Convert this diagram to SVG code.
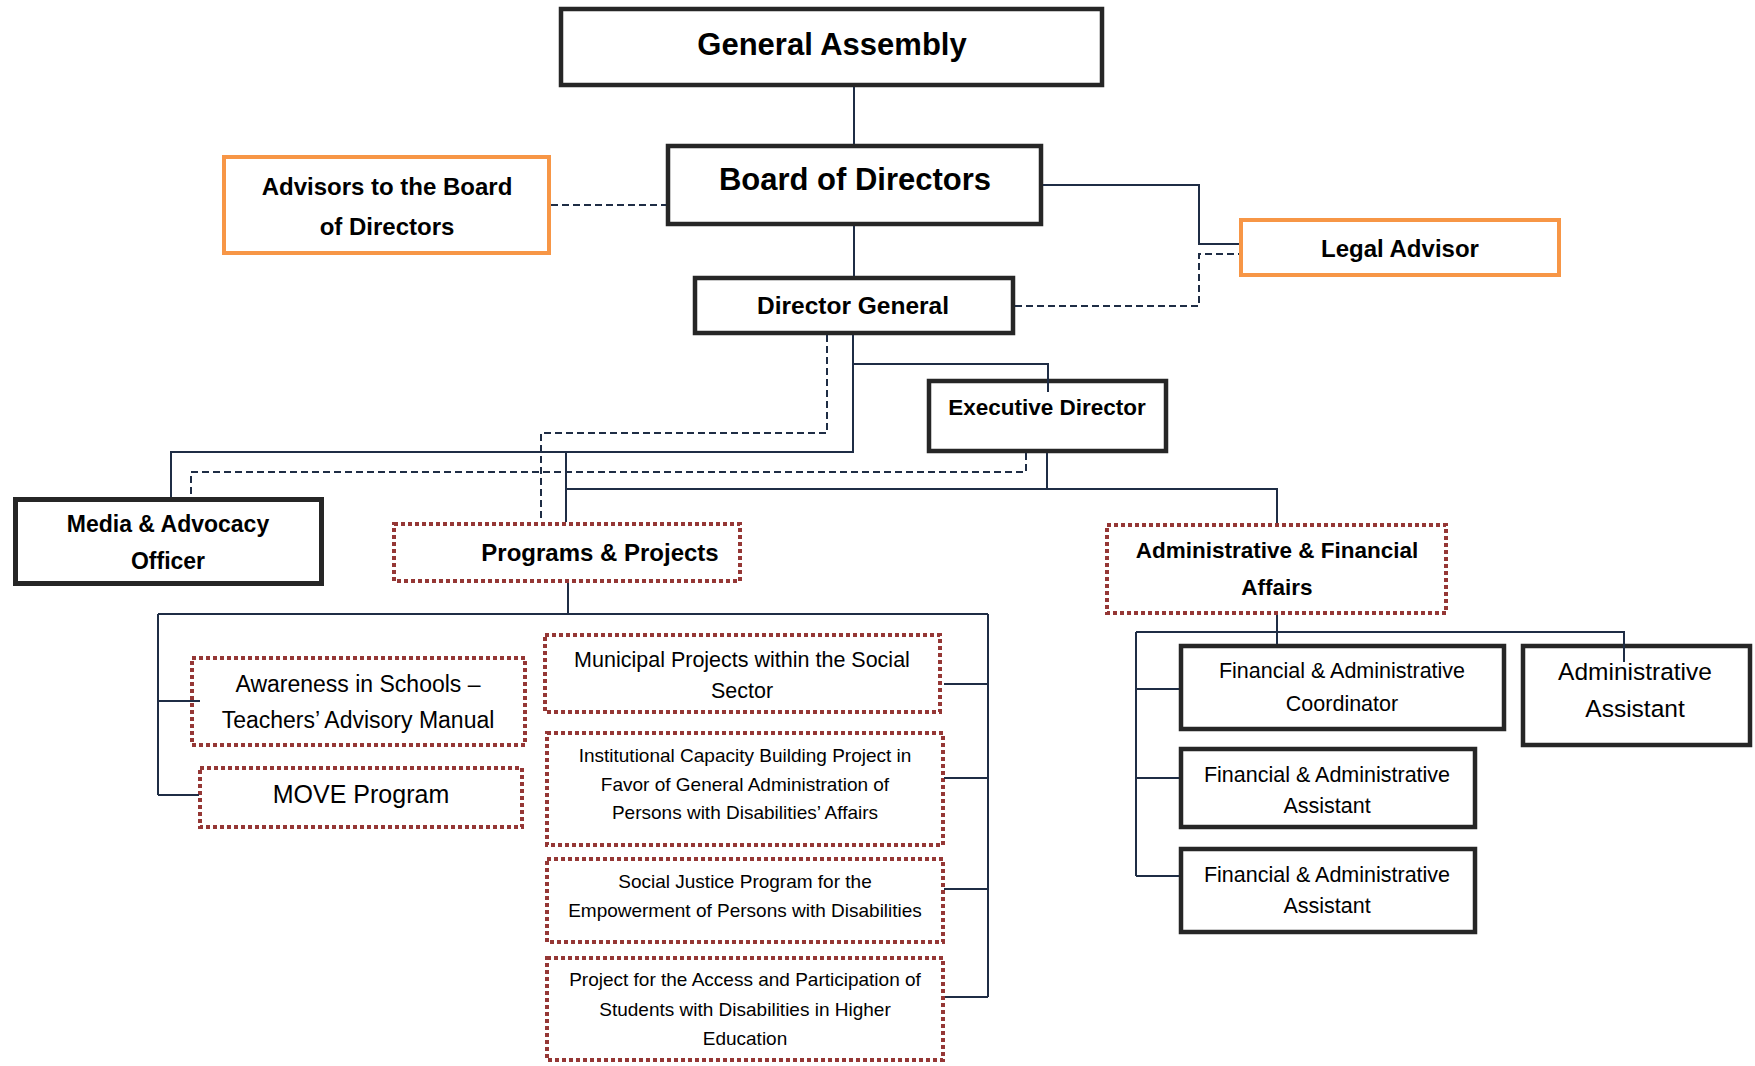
<svg xmlns="http://www.w3.org/2000/svg" width="1755" height="1066" viewBox="0 0 1755 1066">
<style>
.box{fill:#fff;stroke:#262626;stroke-width:4.5}
.adv{fill:#fff;stroke:#f79646;stroke-width:4}
.dot{fill:#fff;stroke:#953735;stroke-width:4;stroke-dasharray:4 3}
.c{fill:none;stroke:#1f2d45;stroke-width:2}
.d{fill:none;stroke:#1f2d45;stroke-width:2;stroke-dasharray:7 4}
text{font-family:"Liberation Sans",Arial,sans-serif;fill:#000;text-anchor:middle}
.b{font-weight:bold}
</style>
<rect width="1755" height="1066" fill="#fff"/>
<g id="general-assembly">
<rect class="box" x="561" y="9" width="541" height="76"/>
<text class="b" x="832" y="55" font-size="31">General Assembly</text>
</g>
<g id="board-of-directors">
<rect class="box" x="668" y="146" width="373" height="78"/>
<text class="b" x="855" y="190" font-size="31">Board of Directors</text>
</g>
<g id="advisors-board">
<rect class="adv" x="224" y="157" width="325" height="96"/>
<text class="b" x="387" y="195" font-size="24">Advisors to the Board</text>
<text class="b" x="387" y="235" font-size="24">of Directors</text>
</g>
<g id="director-general">
<rect class="box" x="695" y="278" width="318" height="55"/>
<text class="b" x="853" y="314" font-size="24.5">Director General</text>
</g>
<g id="legal-advisor">
<rect class="adv" x="1241" y="220" width="318" height="55"/>
<text class="b" x="1400" y="257" font-size="24">Legal Advisor</text>
</g>
<g id="executive-director">
<rect class="box" x="929" y="381" width="237" height="70"/>
<text class="b" x="1047" y="415" font-size="22.5">Executive Director</text>
</g>
<g id="media-advocacy">
<rect class="box" x="15.5" y="499.5" width="306" height="84" style="stroke-width:5"/>
<text class="b" x="168" y="532" font-size="23">Media &amp; Advocacy</text>
<text class="b" x="168" y="569" font-size="23">Officer</text>
</g>
<g id="programs-projects">
<rect class="dot" x="394" y="524" width="346" height="57"/>
<text class="b" x="600" y="561" font-size="24">Programs &amp; Projects</text>
</g>
<g id="admin-financial-affairs">
<rect class="dot" x="1107" y="525" width="339" height="88"/>
<text class="b" x="1277" y="558" font-size="22.5">Administrative &amp; Financial</text>
<text class="b" x="1277" y="595" font-size="22.5">Affairs</text>
</g>
<g id="fa-coordinator">
<rect class="box" x="1181" y="646" width="323" height="83"/>
<text x="1342" y="678" font-size="21.5">Financial &amp; Administrative</text>
<text x="1342" y="711" font-size="21.5">Coordinator</text>
</g>
<g id="admin-assistant">
<rect class="box" x="1523" y="646" width="227" height="99"/>
<text x="1635" y="680" font-size="24.5">Administrative</text>
<text x="1635" y="717" font-size="24.5">Assistant</text>
</g>
<g id="fa-assistant-1">
<rect class="box" x="1181" y="749" width="294" height="78"/>
<text x="1327" y="782" font-size="21.5">Financial &amp; Administrative</text>
<text x="1327" y="813" font-size="21.5">Assistant</text>
</g>
<g id="fa-assistant-2">
<rect class="box" x="1181" y="849" width="294" height="83"/>
<text x="1327" y="882" font-size="21.5">Financial &amp; Administrative</text>
<text x="1327" y="913" font-size="21.5">Assistant</text>
</g>
<g id="awareness-schools">
<rect class="dot" x="192" y="658" width="333" height="87"/>
<text x="358" y="692" font-size="23">Awareness in Schools –</text>
<text x="358" y="728" font-size="23">Teachers’ Advisory Manual</text>
</g>
<g id="move-program">
<rect class="dot" x="200" y="768" width="322" height="59"/>
<text x="361" y="803" font-size="25">MOVE Program</text>
</g>
<g id="municipal-projects">
<rect class="dot" x="545" y="635" width="395" height="77"/>
<text x="742" y="667" font-size="21.5">Municipal Projects within the Social</text>
<text x="742" y="698" font-size="21.5">Sector</text>
</g>
<g id="institutional-capacity">
<rect class="dot" x="547" y="733" width="396" height="112"/>
<text x="745" y="762" font-size="19">Institutional Capacity Building Project in</text>
<text x="745" y="791" font-size="19">Favor of General Administration of</text>
<text x="745" y="819" font-size="19">Persons with Disabilities’ Affairs</text>
</g>
<g id="social-justice">
<rect class="dot" x="547" y="859" width="396" height="83"/>
<text x="745" y="888" font-size="19">Social Justice Program for the</text>
<text x="745" y="917" font-size="19">Empowerment of Persons with Disabilities</text>
</g>
<g id="access-participation">
<rect class="dot" x="547" y="958" width="396" height="102"/>
<text x="745" y="986" font-size="19">Project for the Access and Participation of</text>
<text x="745" y="1016" font-size="19">Students with Disabilities in Higher</text>
<text x="745" y="1045" font-size="19">Education</text>
</g>
<g id="connectors">
<path class="c" d="M854 87V144"/>
<path class="c" d="M854 226V276"/>
<path class="c" d="M1043 185H1199V244H1239"/>
<path class="c" d="M853 335V452H171V497"/>
<path class="c" d="M853 364H1048V392"/>
<path class="c" d="M566 452V522"/>
<path class="c" d="M566 489H1277V523"/>
<path class="c" d="M1047 453V489"/>
<path class="c" d="M1277 615V644"/>
<path class="c" d="M1136 632H1624V662"/>
<path class="c" d="M1136 632V876"/>
<path class="c" d="M1136 689H1179M1136 778H1179M1136 876H1179"/>
<path class="c" d="M568 583V614"/>
<path class="c" d="M158 614H988"/>
<path class="c" d="M158 614V795"/>
<path class="c" d="M158 701H200M158 795H199"/>
<path class="c" d="M988 614V997"/>
<path class="c" d="M988 684H944M988 778H944M988 889H944M988 997H945"/>
<path class="d" d="M551 205H666"/>
<path class="d" d="M1015 306H1199V254H1239"/>
<path class="d" d="M827 335V433H541V522"/>
<path class="d" d="M1026 453V472H191V497"/>
</g>
</svg>
